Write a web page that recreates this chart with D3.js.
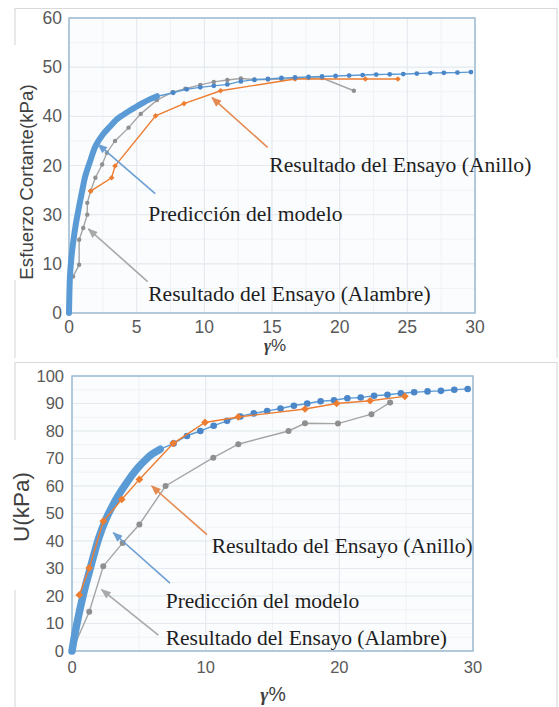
<!DOCTYPE html>
<html>
<head>
<meta charset="utf-8">
<script src="https://cdn.jsdelivr.net/npm/d3@7"></script>
<style>
  body { margin: 0; background: #ffffff; }
  svg { display: block; }
</style>
</head>
<body>
<svg id="chart" width="559" height="707"></svg>
<script>
// ---- Esfuerzo cortante vs γ% (upper panel) ----
const shearModelDense = [
  [0, 0], [0.07, 7.4], [0.15, 10.5], [0.3, 14.2], [0.5, 18], [0.7, 21], [1.0, 25.2],
  [1.2, 27.8], [1.6, 31.2], [1.95, 33.9], [2.5, 36.3], [3.05, 38.0], [3.5, 39.3],
  [4.0, 40.3], [4.5, 41.2], [5.0, 42.0], [5.5, 42.8], [6.0, 43.5], [6.5, 44.1]
];
const shearModelPoints = [
  [6.5, 44.1], [7.7, 44.8], [8.7, 45.5], [9.7, 45.9], [10.7, 46.2], [11.7, 46.5], [12.7, 47.1],
  [13.7, 47.4], [14.7, 47.6], [15.7, 47.8], [16.7, 47.9], [17.7, 48.0], [18.7, 48.1],
  [19.7, 48.2], [20.7, 48.3], [21.7, 48.4], [22.7, 48.5], [23.7, 48.55], [24.7, 48.6],
  [25.7, 48.7], [26.7, 48.8], [27.7, 48.85], [28.7, 48.9], [29.7, 49.0]
];
const shearRing = [
  [1.6, 24.8], [3.15, 27.5], [3.4, 29.9], [6.4, 40.1], [8.5, 42.6], [11.2, 45.2],
  [16.7, 47.6], [21.9, 47.6], [24.3, 47.6]
];
const shearWire = [
  [0.3, 7.4], [0.75, 9.8], [0.75, 14.9], [1.05, 17.3], [1.35, 20], [1.35, 22.4], [1.6, 24.8],
  [1.95, 27.5], [2.45, 30.2], [2.8, 32.6], [3.4, 35.0], [4.4, 37.7], [5.3, 40.5], [6.5, 43.3],
  [7.65, 44.9], [8.6, 45.6], [9.7, 46.4], [10.7, 47.0], [11.7, 47.4], [12.7, 47.7], [13.7, 47.5],
  [14.7, 47.5], [15.7, 47.6], [16.7, 47.7], [17.7, 47.8], [18.7, 47.8], [21.05, 45.2]
];
const shearXTicks = [0, 5, 10, 15, 20, 25, 30];
const shearYTicks = [0, 10, 20, 30, 40, 50, 60];
const shearYTickLabels = ["0", "10", "30", "20", "40", "50", "60"];

// ---- U(kPa) vs γ% (lower panel) ----
const energyModelDense = [
  [0, 0], [0.25, 7], [0.5, 13], [0.75, 18.5], [1.0, 23.5], [1.25, 28], [1.5, 32.5],
  [2.0, 41], [2.5, 47.5], [3.0, 52.5], [3.5, 56.8], [4.0, 60.5], [4.5, 64], [5.0, 67],
  [5.5, 69.5], [6.0, 71.6], [6.6, 73.4]
];
const energyModelPoints = [
  [6.6, 73.4], [7.6, 75.5], [8.6, 78.2], [9.6, 80.0], [10.6, 81.9], [11.6, 83.7], [12.6, 85.3],
  [13.6, 86.4], [14.6, 87.3], [15.6, 88.2], [16.6, 89.2], [17.6, 90.0], [18.6, 90.8],
  [19.6, 91.2], [20.6, 91.9], [21.6, 92.2], [22.6, 92.8], [23.6, 93.2], [24.6, 93.7],
  [25.6, 94.1], [26.6, 94.4], [27.6, 94.6], [28.6, 95.0], [29.6, 95.3]
];
const energyRing = [
  [0.55, 20.4], [1.29, 30.2], [2.34, 47.2], [3.72, 55.1], [5.04, 62.4], [7.58, 75.5],
  [9.95, 83.1], [12.44, 85.1], [17.43, 88.0], [19.8, 90.0], [22.3, 91.0], [24.9, 92.6]
];
const energyWire = [
  [0, 0], [1.29, 14.3], [2.34, 30.8], [3.79, 39.3], [5.04, 46.0], [7.0, 60.0], [10.57, 70.3],
  [12.44, 75.2], [16.2, 80.0], [17.43, 82.8], [19.9, 82.7], [22.4, 86.1], [23.8, 90.4]
];
const energyXTicks = [0, 10, 20, 30];
const energyYTicks = [0, 10, 20, 30, 40, 50, 60, 70, 80, 90, 100];

const noteLabels = [
  "Resultado del Ensayo (Anillo)",
  "Predicción del modelo",
  "Resultado del Ensayo (Alambre)"
];

const COLORS = {
  model: "#5b9bd5", modelDot: "#4a86c8", ring: "#ed7d31", wire: "#a5a5a5", wireDot: "#8f8f8f",
  arrowRing: "#e48a52", arrowModel: "#6c9fd2", arrowWire: "#a9a9a9"
};

const svg = d3.select("#chart");
const defs = svg.append("defs");
[["ring", COLORS.arrowRing], ["model", COLORS.arrowModel], ["wire", COLORS.arrowWire]].forEach(([id, c]) => {
  defs.append("marker")
    .attr("id", "head-" + id)
    .attr("viewBox", "0 0 10 8")
    .attr("refX", 9).attr("refY", 4)
    .attr("markerWidth", 11).attr("markerHeight", 8)
    .attr("markerUnits", "userSpaceOnUse")
    .attr("orient", "auto")
    .append("path").attr("d", "M0,0 L10,4 L0,8 Z").attr("fill", c);
});

// faint outer borders of both chart boxes
const border = svg.append("g").attr("stroke", "#dadada").attr("stroke-width", 1.2).attr("fill", "none");
border.append("path").attr("d", "M15,45 V8.5 H557 V358");
border.append("path").attr("d", "M15,280 V358");
border.append("path").attr("d", "M15,440 V362.5 H557 V707");
border.append("path").attr("d", "M15,590 V707");

function range(a, b, s) { const r = []; for (let v = a; v <= b + 1e-9; v += s) r.push(+v.toFixed(4)); return r; }

function drawPanel(p) {
  const x = d3.scaleLinear().domain(p.xDomain).range([p.left, p.right]);
  const y = d3.scaleLinear().domain(p.yDomain).range([p.bottom, p.top]);
  const g = svg.append("g");

  g.append("rect")
    .attr("x", p.left).attr("y", p.top)
    .attr("width", p.right - p.left).attr("height", p.bottom - p.top)
    .attr("fill", "#fafcfe");

  // minor grid
  g.append("g").selectAll("line").data(range(p.xDomain[0], p.xDomain[1], p.xMinor)).join("line")
    .attr("x1", d => x(d)).attr("x2", d => x(d)).attr("y1", p.top).attr("y2", p.bottom)
    .attr("stroke", "#eff3f6").attr("stroke-width", 1);
  g.append("g").selectAll("line").data(range(p.yDomain[0], p.yDomain[1], p.yMinor)).join("line")
    .attr("x1", p.left).attr("x2", p.right).attr("y1", d => y(d)).attr("y2", d => y(d))
    .attr("stroke", "#eff3f6").attr("stroke-width", 1);
  // major grid
  g.append("g").selectAll("line").data(p.xTicks).join("line")
    .attr("x1", d => x(d)).attr("x2", d => x(d)).attr("y1", p.top).attr("y2", p.bottom)
    .attr("stroke", "#e3e9ee").attr("stroke-width", 1);
  g.append("g").selectAll("line").data(p.yTicks).join("line")
    .attr("x1", p.left).attr("x2", p.right).attr("y1", d => y(d)).attr("y2", d => y(d))
    .attr("stroke", "#e3e9ee").attr("stroke-width", 1);

  g.append("rect")
    .attr("x", p.left).attr("y", p.top)
    .attr("width", p.right - p.left).attr("height", p.bottom - p.top)
    .attr("fill", "none").attr("stroke", "#98b8d0").attr("stroke-width", 1.4);

  // tick labels
  g.append("g").selectAll("text").data(p.yTicks).join("text")
    .attr("x", p.yLabelX).attr("y", d => y(d)).attr("dy", "0.35em")
    .attr("text-anchor", "end")
    .attr("font-family", "Liberation Sans, Arial, sans-serif").attr("font-size", p.tickSize)
    .attr("fill", "#595959")
    .text((d, i) => p.yTickLabels ? p.yTickLabels[i] : d);
  g.append("g").selectAll("text").data(p.xTicks).join("text")
    .attr("x", d => x(d)).attr("y", p.xLabelY)
    .attr("text-anchor", "middle")
    .attr("font-family", "Liberation Sans, Arial, sans-serif").attr("font-size", p.tickSize)
    .attr("fill", "#595959")
    .text(d => d);

  // axis titles
  g.append("text")
    .attr("transform", `translate(${p.yTitleX},${p.yTitleY}) rotate(-90)`)
    .attr("text-anchor", "middle")
    .attr("font-family", "Liberation Sans, Arial, sans-serif").attr("font-size", p.yTitleSize)
    .attr("fill", "#404040")
    .text(p.yTitle);
  const xt = g.append("text")
    .attr("x", p.xTitleX).attr("y", p.xTitleY)
    .attr("text-anchor", "middle")
    .attr("font-size", p.xTitleSize).attr("fill", "#404040");
  xt.append("tspan").attr("font-family", "Liberation Serif, serif")
    .attr("font-style", "italic").attr("font-weight", "bold").text("γ");
  xt.append("tspan").attr("font-family", "Liberation Sans, Arial, sans-serif").text("%");

  const lin = d3.line().x(d => x(d[0])).y(d => y(d[1]));
  const smooth = d3.line().x(d => x(d[0])).y(d => y(d[1])).curve(d3.curveCatmullRom.alpha(0.5));
  const diamond = d3.symbol().type(d3.symbolSquare).size(p.diamondSize);

  const drawWire = () => {
    g.append("path").datum(p.wire).attr("d", lin)
      .attr("fill", "none").attr("stroke", COLORS.wire).attr("stroke-width", 1.4);
    g.append("g").selectAll("circle").data(p.wire).join("circle")
      .attr("cx", d => x(d[0])).attr("cy", d => y(d[1])).attr("r", p.wireR)
      .attr("fill", COLORS.wireDot);
  };
  const drawRing = () => {
    g.append("path").datum(p.ring).attr("d", lin)
      .attr("fill", "none").attr("stroke", COLORS.ring).attr("stroke-width", 1.4);
    g.append("g").selectAll("path").data(p.ring).join("path")
      .attr("transform", d => `translate(${x(d[0])},${y(d[1])}) rotate(45)`)
      .attr("d", diamond).attr("fill", COLORS.ring);
  };
  const drawModel = () => {
    g.append("path").datum(p.modelDense).attr("d", smooth)
      .attr("fill", "none").attr("stroke", COLORS.model).attr("stroke-width", p.thick)
      .attr("stroke-linecap", "round");
    g.append("path").datum(p.modelPoints).attr("d", smooth)
      .attr("fill", "none").attr("stroke", COLORS.model).attr("stroke-width", 1.4);
    g.append("g").selectAll("circle").data(p.modelPoints.slice(1)).join("circle")
      .attr("cx", d => x(d[0])).attr("cy", d => y(d[1])).attr("r", p.modelR)
      .attr("fill", COLORS.modelDot);
  };
  p.order.forEach(k => ({ wire: drawWire, ring: drawRing, model: drawModel })[k]());

  // annotations
  p.notes.forEach((n, i) => {
    g.append("line")
      .attr("x1", x(n.tail[0])).attr("y1", y(n.tail[1]))
      .attr("x2", x(n.head[0])).attr("y2", y(n.head[1]))
      .attr("stroke", n.color).attr("stroke-width", 1.6)
      .attr("marker-end", `url(#head-${n.key})`);
    g.append("text")
      .attr("x", x(n.at[0])).attr("y", y(n.at[1]))
      .attr("font-family", "Liberation Serif, 'Times New Roman', serif")
      .attr("font-size", p.noteSize).attr("fill", "#1e1e1e")
      .text(noteLabels[i]);
  });
}

drawPanel({
  left: 69, right: 475, top: 18, bottom: 313,
  xDomain: [0, 30], yDomain: [0, 60],
  xTicks: shearXTicks, yTicks: shearYTicks, yTickLabels: shearYTickLabels,
  xMinor: 2.5, yMinor: 5,
  tickSize: 17.5, yLabelX: 62, xLabelY: 333,
  yTitle: "Esfuerzo Cortante(kPa)", yTitleX: 33, yTitleY: 182, yTitleSize: 18.7,
  xTitleX: 275, xTitleY: 351, xTitleSize: 17,
  modelDense: shearModelDense, modelPoints: shearModelPoints, ring: shearRing, wire: shearWire,
  thick: 6, modelR: 2.4, wireR: 2.2, diamondSize: 16,
  order: ["wire", "ring", "model"],
  noteSize: 21.6,
  notes: [
    { key: "ring", color: COLORS.arrowRing, head: [10.57, 43.8], tail: [14.67, 33.7], at: [14.8, 28.6] },
    { key: "model", color: COLORS.arrowModel, head: [2.15, 34.3], tail: [6.37, 24.3], at: [5.85, 18.8] },
    { key: "wire", color: COLORS.arrowWire, head: [1.43, 17.1], tail: [5.81, 6.4], at: [5.85, 2.45] }
  ]
});

drawPanel({
  left: 72, right: 473, top: 376, bottom: 651,
  xDomain: [0, 30], yDomain: [0, 100],
  xTicks: energyXTicks, yTicks: energyYTicks,
  xMinor: 5, yMinor: 5,
  tickSize: 16.5, yLabelX: 64, xLabelY: 673,
  yTitle: "U(kPa)", yTitleX: 29, yTitleY: 507, yTitleSize: 22.5,
  xTitleX: 273, xTitleY: 701, xTitleSize: 19.5,
  modelDense: energyModelDense, modelPoints: energyModelPoints, ring: energyRing, wire: energyWire,
  thick: 7.5, modelR: 3.3, wireR: 3, diamondSize: 30,
  order: ["wire", "model", "ring"],
  noteSize: 21.5,
  notes: [
    { key: "ring", color: COLORS.arrowRing, head: [5.96, 60.0], tail: [10.1, 42.3], at: [10.45, 35.8] },
    { key: "model", color: COLORS.arrowModel, head: [3.09, 43.0], tail: [7.33, 24.7], at: [7.01, 15.7] },
    { key: "wire", color: COLORS.arrowWire, head: [2.22, 22.3], tail: [6.46, 5.8], at: [7.01, 2.2] }
  ]
});
</script>
</body>
</html>
